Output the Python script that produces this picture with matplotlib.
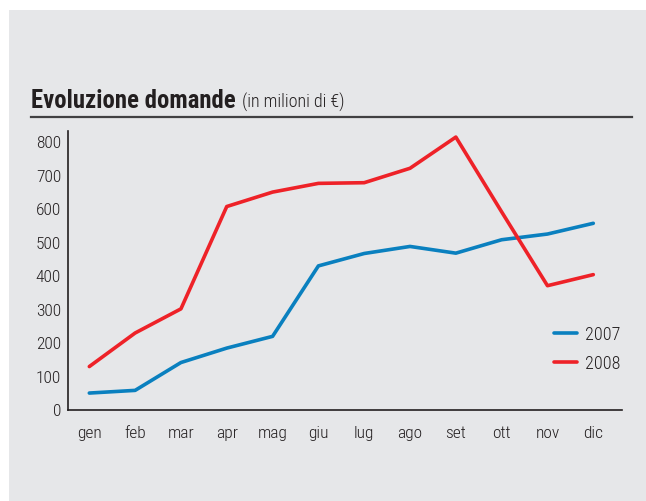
import matplotlib.pyplot as plt
from matplotlib.patches import Rectangle
from matplotlib.lines import Line2D

months = ['gen', 'feb', 'mar', 'apr', 'mag', 'giu', 'lug', 'ago', 'set', 'ott', 'nov', 'dic']
vals_2007 = [49, 57, 140, 183, 218, 428, 465, 486, 466, 506, 523, 555]
vals_2008 = [128, 228, 300, 605, 648, 674, 676, 719, 812, 589, 369, 402]
yticks = [0, 100, 200, 300, 400, 500, 600, 700, 800]

narrow = ['Roboto Condensed', 'DejaVu Sans']
ink = '#231f20'

W, H = 646, 502
fig = plt.figure(figsize=(W / 100, H / 100), dpi=100)
fig.patch.set_facecolor('white')
fig.patches.append(Rectangle((9 / W, 0), 1 - 9 / W, 1 - 11 / H, transform=fig.transFigure,
                             facecolor='#e6e7e9', edgecolor='none', zorder=-5))

# title and rule under it
fig.text(31 / W, 1 - 101 / H, 'Evoluzione domande', fontsize=17.8, fontweight='bold',
         family=narrow, color=ink, va='center', ha='left')
fig.text(242 / W, 1 - 102.5 / H, '(in milioni di €)', fontsize=13, fontweight='light',
         family=narrow, color=ink, va='center', ha='left')
fig.add_artist(Line2D([31 / W, 632 / W], [1 - 118 / H, 1 - 118 / H], transform=fig.transFigure,
                      color='#414042', lw=1.6))

ax = fig.add_axes([68 / W, 1 - 411 / H, (621.7 - 68) / W, (411 - 131.7) / H])
ax.set_zorder(2)
ax.set_facecolor('none')
x = list(range(len(months)))
ax.plot(x, vals_2007, color='#0a80bf', lw=2.6, solid_capstyle='round', label='2007')
ax.plot(x, vals_2008, color='#ee2228', lw=2.6, solid_capstyle='round', label='2008')

ax.set_xlim(-0.465, 11.62)
ax.set_ylim(-1.5, 831)
ax.set_xticks(x)
ax.set_xticklabels(months)
ax.set_yticks(yticks)
ax.set_yticklabels([str(v) for v in yticks])
ax.tick_params(length=0, labelsize=12.5, colors=ink)
ax.tick_params(axis='x', pad=11)
ax.tick_params(axis='y', pad=5)
for lab in ax.get_xticklabels() + ax.get_yticklabels():
    lab.set_family(narrow)
    lab.set_fontweight('light')
for s in ['top', 'right']:
    ax.spines[s].set_visible(False)
for s in ['left', 'bottom']:
    ax.spines[s].set_color(ink)
    ax.spines[s].set_linewidth(1.2)

leg = ax.legend(frameon=False, loc='upper left', bbox_to_anchor=(538 / W, 1 - 310 / H),
                bbox_transform=fig.transFigure, handlelength=1.25, handletextpad=0.45,
                labelspacing=0.6, prop={'family': narrow, 'size': 13, 'weight': 'light'})
for t in leg.get_texts():
    t.set_color(ink)

fig.savefig('out.png', dpi=100)
